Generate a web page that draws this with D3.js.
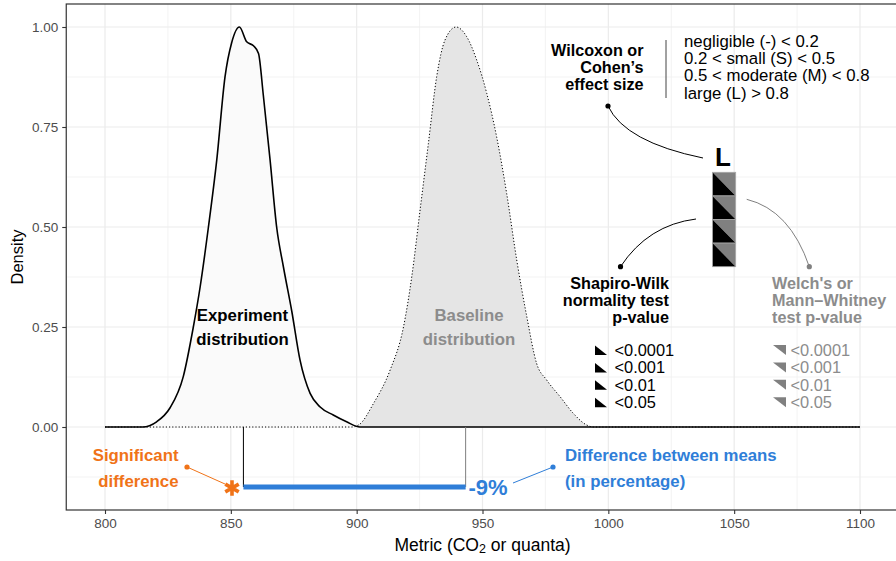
<!DOCTYPE html>
<html>
<head>
<meta charset="utf-8">
<script src="https://cdn.jsdelivr.net/npm/d3@7"></script>
<style>
  html, body { margin: 0; padding: 0; background: #fff; }
  svg { display: block; font-family: "Liberation Sans", Arial, Helvetica, sans-serif; }
</style>
</head>
<body>
<svg id="chart" width="896" height="561"></svg>
<script>
// ---------------- data ----------------
const experimentX = [800, 815, 820.5, 825.8, 831.1, 835.1, 837.8, 841.1, 844.4, 847.7, 850.3, 853.4, 856.3, 859.0, 861.0, 862.9, 865.6, 868.2, 870.9, 874.2, 877.5, 881.5, 885.5, 890.7, 896, 901.3, 1100];
const experimentY = [0, 0, 0.013, 0.0475, 0.126, 0.25, 0.35, 0.50, 0.667, 0.876, 0.96, 1.0, 0.963, 0.953, 0.934, 0.83, 0.667, 0.50, 0.40, 0.29, 0.167, 0.084, 0.05, 0.03, 0.013, 0.0, 0];
const baselineX = [800, 898, 901, 906.7, 913.3, 918.6, 921.9, 925.2, 928.5, 931.8, 935.1, 939.5, 943.7, 947.7, 951.7, 955.6, 959.6, 963.6, 967.6, 971.5, 975.5, 980.8, 986.1, 991.4, 994, 1100];
const baselineY = [0, 0, 0.006, 0.059, 0.1425, 0.25, 0.376, 0.5425, 0.709, 0.876, 0.9675, 1.0, 0.976, 0.9175, 0.834, 0.726, 0.584, 0.4175, 0.276, 0.159, 0.1175, 0.076, 0.034, 0.005, 0, 0];
const experimentMean = 855.0;
const baselineMean = 943.3;
const meanBarLevel = -0.15;
const xTicks = [800, 850, 900, 950, 1000, 1050, 1100];
const yTicks = [0, 0.25, 0.5, 0.75, 1.0];
const yTickLabels = ["0.00", "0.25", "0.50", "0.75", "1.00"];
const effectLabels = ["negligible (-) < 0.2", "0.2 < small (S) < 0.5", "0.5 < moderate (M) < 0.8", "large (L) > 0.8"];
const pLabels = ["<0.0001", "<0.001", "<0.01", "<0.05"];
const effectSize = "L";
const normalityLevels = [0, 1, 2, 3];   // 4 squares (all p < 0.0001)

// ---------------- layout ----------------
const svg = d3.select("#chart");
const x = d3.scaleLinear().domain([785, 1115]).range([67.25, 897.75]);
const y = d3.scaleLinear().domain([-0.2075, 1.0575]).range([510, 4]);
const [px0, px1] = x.range();
const [py1, py0] = y.range();

const BLACK = "#000000", GREY = "#8C8C8C", ORANGE = "#F07318", BLUE = "#2F7ED8";
const BOLD = 16.8, REG = 16.8, STACK = 16.2;

// grid
const grid = svg.append("g");
const minorX = d3.range(825, 1100, 50);
const minorY = [-0.125, 0.125, 0.375, 0.625, 0.875];
grid.selectAll(".mx").data(minorX).join("line")
  .attr("x1", d => x(d)).attr("x2", d => x(d)).attr("y1", py0).attr("y2", py1)
  .attr("stroke", "#F0F0F0").attr("stroke-width", 0.8);
grid.selectAll(".my").data(minorY).join("line")
  .attr("y1", d => y(d)).attr("y2", d => y(d)).attr("x1", px0).attr("x2", px1)
  .attr("stroke", "#F0F0F0").attr("stroke-width", 0.8);
grid.selectAll(".Mx").data(xTicks).join("line")
  .attr("x1", d => x(d)).attr("x2", d => x(d)).attr("y1", py0).attr("y2", py1)
  .attr("stroke", "#EBEBEB").attr("stroke-width", 1.2);
grid.selectAll(".My").data(yTicks).join("line")
  .attr("y1", d => y(d)).attr("y2", d => y(d)).attr("x1", px0).attr("x2", px1)
  .attr("stroke", "#EBEBEB").attr("stroke-width", 1.2);

// densities
const baseData = baselineX.map((v, i) => [v, baselineY[i]]);
const expData = experimentX.map((v, i) => [v, experimentY[i]]);
const area = d3.area().x(d => x(d[0])).y0(y(0)).y1(d => y(d[1])).curve(d3.curveMonotoneX);
const line = d3.line().x(d => x(d[0])).y(d => y(d[1])).curve(d3.curveMonotoneX);

svg.append("path").attr("d", area(baseData)).attr("fill", "#E5E5E5");
svg.append("path").attr("d", area(expData)).attr("fill", "#FAFAFA");
svg.append("path").attr("d", line(baseData)).attr("fill", "none")
  .attr("stroke", BLACK).attr("stroke-width", 1).attr("stroke-dasharray", "1.2,2");
svg.append("path").attr("d", line(expData)).attr("fill", "none")
  .attr("stroke", BLACK).attr("stroke-width", 1.6);

// mean lines and difference bar
svg.append("line").attr("x1", x(experimentMean)).attr("x2", x(experimentMean))
  .attr("y1", y(0)).attr("y2", y(meanBarLevel)).attr("stroke", BLACK).attr("stroke-width", 1);
svg.append("line").attr("x1", x(baselineMean)).attr("x2", x(baselineMean))
  .attr("y1", y(0)).attr("y2", y(meanBarLevel)).attr("stroke", "#7F7F7F").attr("stroke-width", 1);
svg.append("line").attr("x1", x(experimentMean)).attr("x2", x(baselineMean))
  .attr("y1", y(meanBarLevel)).attr("y2", y(meanBarLevel)).attr("stroke", BLUE).attr("stroke-width", 5);

// text helper
function txt(g, s, xx, yy, opt) {
  const t = g.append("text").attr("x", xx).attr("y", yy)
    .attr("dominant-baseline", "central")
    .attr("text-anchor", opt.anchor || "start")
    .attr("font-size", opt.size || REG)
    .attr("font-weight", opt.bold ? "bold" : "normal")
    .attr("fill", opt.color || BLACK)
    .text(s);
  return t;
}
const ann = svg.append("g");

// distribution labels
txt(ann, "Experiment", 242.5, 315, {anchor: "middle", bold: true, size: BOLD});
txt(ann, "distribution", 242.5, 339, {anchor: "middle", bold: true, size: BOLD});
txt(ann, "Baseline", 469, 315, {anchor: "middle", bold: true, size: BOLD, color: GREY});
txt(ann, "distribution", 469, 339, {anchor: "middle", bold: true, size: BOLD, color: GREY});

// significant difference
txt(ann, "Significant", 178.5, 455, {anchor: "end", bold: true, size: BOLD, color: ORANGE});
txt(ann, "difference", 178.5, 481, {anchor: "end", bold: true, size: BOLD, color: ORANGE});
ann.append("line").attr("x1", 187).attr("y1", 467).attr("x2", 225).attr("y2", 484)
  .attr("stroke", ORANGE).attr("stroke-width", 1);
ann.append("circle").attr("cx", 187).attr("cy", 467).attr("r", 2.6).attr("fill", ORANGE);
ann.append("path").attr("transform", `translate(232,488)`)
  .attr("d", d3.symbol(d3.symbolAsterisk, 170)())
  .attr("stroke", ORANGE).attr("stroke-width", 3.6).attr("fill", "none");

// difference label
const pct = Math.round((experimentMean - baselineMean) / baselineMean * 100);
txt(ann, `${pct}%`, 468.5, 487, {bold: true, size: 22, color: BLUE});
ann.append("line").attr("x1", 513).attr("y1", 483).attr("x2", 553).attr("y2", 467)
  .attr("stroke", BLUE).attr("stroke-width", 1);
ann.append("circle").attr("cx", 553).attr("cy", 467).attr("r", 2.6).attr("fill", BLUE);
txt(ann, "Difference between means", 565, 455, {bold: true, size: BOLD, color: BLUE});
txt(ann, "(in percentage)", 565, 481, {bold: true, size: BOLD, color: BLUE});

// effect size legend
txt(ann, "Wilcoxon or", 643.5, 50, {anchor: "end", bold: true, size: STACK});
txt(ann, "Cohen\u2019s", 643.5, 67, {anchor: "end", bold: true, size: STACK});
txt(ann, "effect size", 643.5, 83.5, {anchor: "end", bold: true, size: STACK});
ann.append("line").attr("x1", 666).attr("x2", 666).attr("y1", 40).attr("y2", 98)
  .attr("stroke", "#444").attr("stroke-width", 1);
effectLabels.forEach((s, i) => txt(ann, s, 684, 41.5 + i * 17.2, {size: REG}));
ann.append("path").attr("d", "M608,106 Q625,142 703,158").attr("fill", "none")
  .attr("stroke", BLACK).attr("stroke-width", 1);
ann.append("circle").attr("cx", 608).attr("cy", 106).attr("r", 2.6).attr("fill", BLACK);
txt(ann, effectSize, 723, 156.5, {anchor: "middle", bold: true, size: 26});

// stacked squares
const sq = ann.append("g");
const sx0 = 712.5, sw = 23.2, sy0 = 172.3, sh = 23.6;
normalityLevels.forEach((d, i) => {
  const t = sy0 + i * sh, l = sx0, r = sx0 + sw, b = t + sh;
  sq.append("path").attr("d", `M${l},${t}L${r},${t}L${r},${b}Z`).attr("fill", "#808080");
  sq.append("path").attr("d", `M${l},${t}L${l},${b}L${r},${b}Z`).attr("fill", BLACK);
  sq.append("rect").attr("x", l).attr("y", t).attr("width", sw).attr("height", sh)
    .attr("fill", "none").attr("stroke", "#A8A8A8").attr("stroke-width", 0.8);
});

// Shapiro-Wilk
ann.append("path").attr("d", "M620.5,266.7 Q648,225 696,219").attr("fill", "none")
  .attr("stroke", BLACK).attr("stroke-width", 1);
ann.append("circle").attr("cx", 620.5).attr("cy", 266.7).attr("r", 2.6).attr("fill", BLACK);
txt(ann, "Shapiro-Wilk", 669, 283.3, {anchor: "end", bold: true, size: STACK});
txt(ann, "normality test", 669, 300, {anchor: "end", bold: true, size: STACK});
txt(ann, "p-value", 669, 316.7, {anchor: "end", bold: true, size: STACK});

// Welch / Mann-Whitney
ann.append("path").attr("d", "M746.7,199.3 Q790,210 809.3,266.7").attr("fill", "none")
  .attr("stroke", "#808080").attr("stroke-width", 1);
ann.append("circle").attr("cx", 809.3).attr("cy", 266.7).attr("r", 2.6).attr("fill", "#808080");
txt(ann, "Welch's or", 772, 283.3, {bold: true, size: STACK, color: GREY});
txt(ann, "Mann\u2013Whitney", 772, 300, {bold: true, size: STACK, color: GREY});
txt(ann, "test p-value", 772, 316.7, {bold: true, size: STACK, color: GREY});

// p-value keys
pLabels.forEach((s, i) => {
  const cy = 350 + i * 17.4;
  ann.append("path").attr("d", `M595,${cy - 4.5}L595,${cy + 5}L607,${cy + 5}Z`).attr("fill", BLACK);
  txt(ann, s, 614.5, cy, {size: 16.4});
  ann.append("path").attr("d", `M773,${cy - 5}L786,${cy - 5}L786,${cy + 5}Z`).attr("fill", "#808080");
  txt(ann, s, 790.5, cy, {size: 16.4, color: GREY});
});

// panel border
svg.append("rect").attr("x", px0 - 1).attr("y", py0).attr("width", px1 - px0 + 1).attr("height", py1 - py0)
  .attr("fill", "none").attr("stroke", "#333333").attr("stroke-width", 1.2);

// axes
const xAxis = svg.append("g").attr("transform", `translate(0,${py1})`)
  .call(d3.axisBottom(x).tickValues(xTicks).tickSize(4).tickPadding(4).tickFormat(d3.format("d")));
const yAxis = svg.append("g").attr("transform", `translate(${px0 - 1},0)`)
  .call(d3.axisLeft(y).tickValues(yTicks).tickSize(4).tickPadding(4).tickFormat((d, i) => yTickLabels[i]));
[xAxis, yAxis].forEach(a => {
  a.select(".domain").remove();
  a.selectAll(".tick line").attr("stroke", "#333333").attr("stroke-width", 1.1);
  a.selectAll(".tick text").attr("fill", "#4D4D4D").attr("font-size", 13.5)
    .attr("font-family", "'Liberation Sans', Arial, Helvetica, sans-serif");
});

// axis titles
svg.append("text").attr("transform", `translate(17,${(py0 + py1) / 2}) rotate(-90)`)
  .attr("text-anchor", "middle").attr("dominant-baseline", "central")
  .attr("font-size", 16.5).attr("fill", BLACK).text("Density");
const xt = svg.append("text").attr("x", (px0 + px1) / 2).attr("y", 545)
  .attr("text-anchor", "middle").attr("dominant-baseline", "central")
  .attr("font-size", 17.5).attr("fill", BLACK);
xt.append("tspan").text("Metric (CO");
xt.append("tspan").attr("font-size", 12.5).attr("dy", 4).text("2");
xt.append("tspan").attr("dy", -4).text(" or quanta)");
</script>
</body>
</html>
